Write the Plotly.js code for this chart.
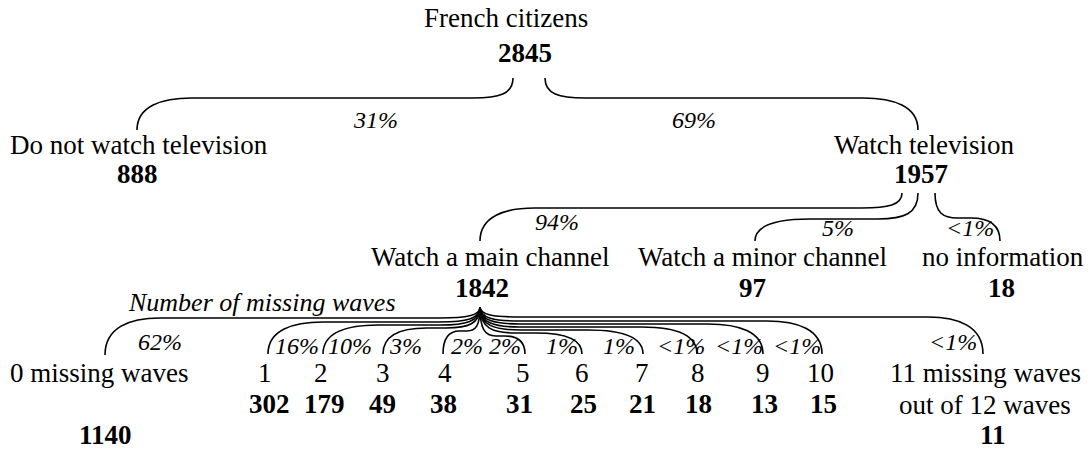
<!DOCTYPE html>
<html>
<head>
<meta charset="utf-8">
<script src="https://cdn.plot.ly/plotly-3.0.1.min.js"></script>
<style>html,body{margin:0;padding:0;background:#fff;}#chart{width:1091px;height:450px;}</style>
</head>
<body>
<div id="chart"></div>
<script>
// ---------------- DATA ----------------
const nodeNames = ["French citizens", "Do not watch television", "Watch television",
  "Watch a main channel", "Watch a minor channel", "no information",
  "0 missing waves", "1", "2", "3", "4", "5", "6", "7", "8", "9", "10",
  "11 missing waves\nout of 12 waves"];
const nodeCounts = [2845, 888, 1957, 1842, 97, 18, 1140, 302, 179, 49, 38, 31, 25, 21, 18, 13, 15, 11];
const nodeParents = [null, 0, 0, 2, 2, 2, 3, 3, 3, 3, 3, 3, 3, 3, 3, 3, 3, 3];
const edgeShares = [null, "31%", "69%", "94%", "5%", "<1%", "62%", "16%", "10%", "3%", "2%", "2%",
  "1%", "1%", "<1%", "<1%", "<1%", "<1%"];
const groupCaption = "Number of missing waves";

// ---------------- LAYOUT (positions, pixel-like axis units) ----------------
const labelPos = [[506,18],[139,145],[924,145],[490,257],[762,257],[1003,257],[99,373],
  [265,373],[321,373],[383,373],[445,373],[523,373],[582,373],[642,373],[698,373],[763,373],[820,373],[985,373]];
const labelLineGap = 32;
const countPos = [[525,53],[137,174],[921,174],[482,288],[752,288],[1001,288],[105,435],
  [269,404],[324,404],[382,404],[443,404],[519,404],[583,404],[642,404],[698,404],[764,404],[823,404],[993,435]];
const braceFrom = [null,[513,78],[545,78],[902,193],[918,193],[935,193],
  [480,307],[480,307],[480,307],[480,307],[480,307],[480,307],[480,307],[480,307],[480,307],[480,307],[480,307],[480,307]];
const braceTo = [null,[137,130],[918,130],[480,241],[755,241],[1000,241],
  [105,355],[268,354],[323,354],[383,354],[443,354],[525,354],[582,354],[643,354],[697,354],[763,354],[822,354],[983,354]];
const braceLevel = [null,98,98,208,219,218,318,322,325,328,331,336,333,330,327,324,321,317];
const sharePos = [null,[375,120],[694,120],[557,222],[838,228],[970,228],
  [160,342],[297,346],[350,346],[405,346],[467,346],[505,346],[562,346],[619,346],[681,346],[739,346],[797,346],[953,342]];
const captionPos = [262, 302];

const FONT = '"Liberation Serif", "Times New Roman", Times, serif';
const esc = s => s.replace(/&/g,'&amp;').replace(/</g,'&lt;').replace(/>/g,'&gt;');

function bracePath(p, c, yh) {
  const s = Math.sign(c[0] - p[0]);
  const dx = Math.abs(c[0] - p[0]);
  const r0 = Math.min(40, 0.35 * dx), r1 = Math.min(55, 0.45 * dx);
  const ax = p[0] + s * r0, bx = c[0] - s * r1;
  return `M${p[0]},${p[1]} C${p[0]},${p[1] + 0.8 * (yh - p[1])} ${p[0] + s * r0 * 0.35},${yh} ${ax},${yh}` +
         ` L${bx},${yh} C${c[0] - s * r1 * 0.45},${yh} ${c[0]},${yh + 0.25 * (c[1] - yh)} ${c[0]},${c[1]}`;
}

const annotations = [];
const shapes = [];
nodeNames.forEach((name, i) => {
  name.split('\n').forEach((line, k) => {
    annotations.push({x: labelPos[i][0], y: labelPos[i][1] + k * labelLineGap, xref: 'x', yref: 'y', showarrow: false,
      text: esc(line), font: {family: FONT, size: 27, color: '#000'}, xanchor: 'center', yanchor: 'middle'});
  });
  annotations.push({x: countPos[i][0], y: countPos[i][1], xref: 'x', yref: 'y', showarrow: false,
    text: '<b>' + nodeCounts[i] + '</b>', font: {family: FONT, size: 27, color: '#000'}, xanchor: 'center', yanchor: 'middle'});
  if (nodeParents[i] !== null) {
    shapes.push({type: 'path', xref: 'x', yref: 'y', path: bracePath(braceFrom[i], braceTo[i], braceLevel[i]),
      line: {color: '#000', width: 1.6}});
    annotations.push({x: sharePos[i][0], y: sharePos[i][1], xref: 'x', yref: 'y', showarrow: false,
      text: '<i>' + esc(edgeShares[i]) + '</i>', font: {family: FONT, size: 24, color: '#000'}, xanchor: 'center', yanchor: 'middle'});
  }
});
annotations.push({x: captionPos[0], y: captionPos[1], xref: 'x', yref: 'y', showarrow: false,
  text: '<i>' + esc(groupCaption) + '</i>', font: {family: FONT, size: 26, color: '#000'}, xanchor: 'center', yanchor: 'middle'});

const layout = {
  width: 1091, height: 450,
  margin: {l: 0, r: 0, t: 0, b: 0, pad: 0},
  paper_bgcolor: '#fff', plot_bgcolor: '#fff',
  showlegend: false,
  font: {family: FONT},
  xaxis: {range: [0, 1091], visible: false, fixedrange: true},
  yaxis: {range: [450, 0], visible: false, fixedrange: true},
  annotations: annotations,
  shapes: shapes
};
Plotly.newPlot('chart', [], layout, {staticPlot: true, displayModeBar: false});
</script>
</body>
</html>
